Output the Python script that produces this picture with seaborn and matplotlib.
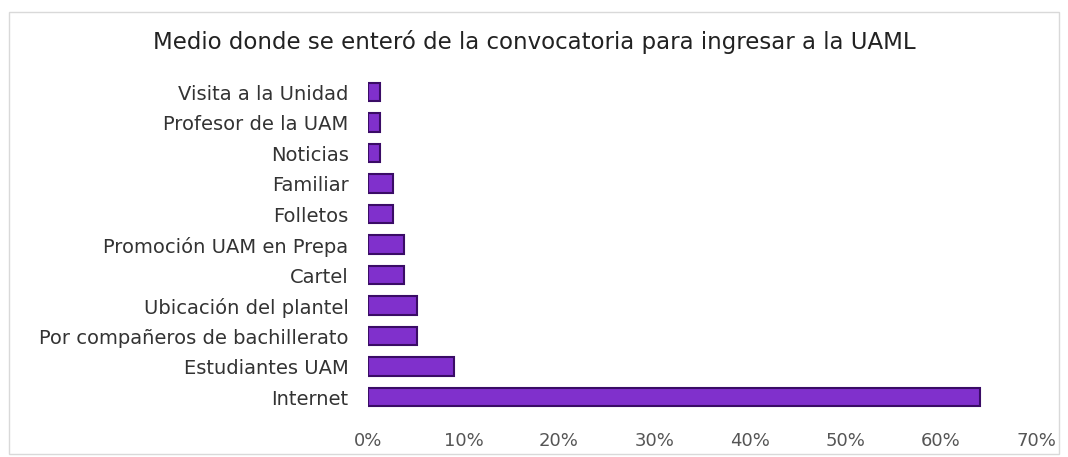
import pandas as pd
import numpy as np
import matplotlib
matplotlib.use('Agg')
import matplotlib.pyplot as plt
import seaborn as sns
from matplotlib.patches import Rectangle
from matplotlib.ticker import FuncFormatter

# Data (top to bottom, as in the chart)
medios = ['Visita a la Unidad', 'Profesor de la UAM', 'Noticias', 'Familiar', 'Folletos',
          'Promoción UAM en Prepa', 'Cartel', 'Ubicación del plantel',
          'Por compañeros de bachillerato', 'Estudiantes UAM', 'Internet']
porcentaje = [1.3, 1.3, 1.3, 2.6, 2.6, 3.8, 3.8, 5.1, 5.1, 9.0, 64.1]

df = pd.DataFrame({'medio': medios, 'pct': porcentaje})

sns.set_style('white')
plt.rcParams['font.family'] = ['DejaVu Sans']

fig = plt.figure(figsize=(10.68, 4.57), dpi=100)
ax = fig.add_axes([0.3446, 0.0979, 0.6254, 0.7341])

sns.barplot(data=df, x='pct', y='medio', order=medios, orient='h',
            color='#8030cc', edgecolor='#3a0c66', linewidth=1.5,
            width=0.6, saturation=1, ax=ax)

ax.set_xlim(0, 70)
ax.set_xticks(np.arange(0, 71, 10))
ax.xaxis.set_major_formatter(FuncFormatter(lambda v, p: f'{int(v)}%'))
ax.set_xlabel('')
ax.set_ylabel('')
ax.tick_params(axis='y', labelsize=14, colors='#333333', length=0, pad=14)
ax.tick_params(axis='x', labelsize=13, colors='#555555', length=0, pad=14)
for s in ax.spines.values():
    s.set_visible(False)

fig.text(0.5, 0.908, 'Medio donde se enteró de la convocatoria para ingresar a la UAML',
         ha='center', va='center', fontsize=16.5, color='#222222')

# light frame around the chart
fig.patches.append(Rectangle((0.008, 0.006), 0.984, 0.968, transform=fig.transFigure,
                             fill=False, edgecolor='#d9d9d9', linewidth=1))

fig.savefig('out.png', dpi=100)
